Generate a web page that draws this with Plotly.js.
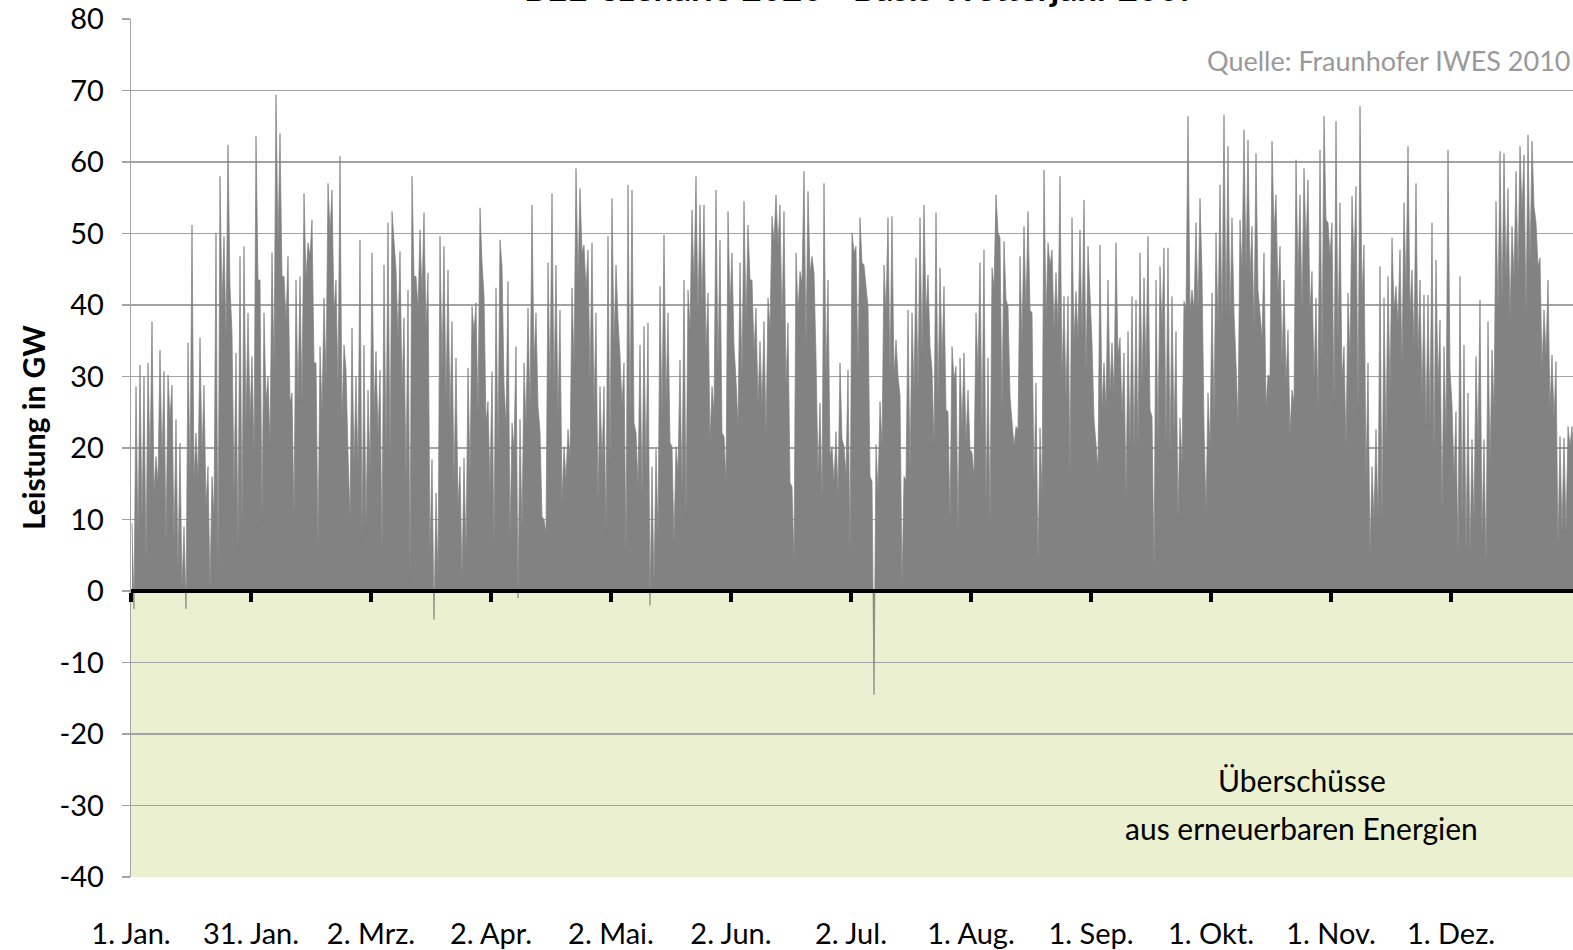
<!DOCTYPE html>
<html><head><meta charset="utf-8">
<script src="https://cdn.plot.ly/plotly-3.0.1.min.js"></script>
<style>html,body{margin:0;padding:0;overflow:hidden;background:#fff}</style>
</head><body><div id="chart" style="width:1620px;height:950px"></div>
<script>
// Daily maximum and minimum residual load (GW), day 0 = 1 Jan
const dailyPeak = [
9.5,28.6,31.6,30.0,31.9,37.7,18.8,33.7,30.7,30.2,28.8,24.0,20.7,9.0,34.7,51.2,22.1,35.4,28.8,17.4,
16.0,50.1,58.0,49.6,62.4,36.1,33.3,46.8,48.2,38.9,32.8,63.6,43.5,38.9,30.0,47.3,69.4,64.0,44.0,46.8,
27.7,43.5,44.0,55.6,48.7,51.9,31.9,34.2,41.0,57.0,56.1,43.5,60.8,34.4,19.3,36.8,30.0,49.1,34.4,28.1,
47.3,33.5,30.9,45.6,51.5,53.1,44.9,47.5,38.2,42.1,58.0,44.0,50.5,52.9,44.5,18.4,13.7,49.6,48.2,44.9,
37.7,32.6,17.4,18.6,31.2,39.8,40.3,53.6,41.4,26.5,30.7,42.4,49.1,28.8,43.3,23.5,34.2,24.0,31.9,39.6,
54.0,38.9,22.3,10.0,45.9,55.6,45.6,39.3,20.2,22.6,42.4,59.1,56.3,48.4,47.7,48.7,38.9,28.6,28.6,49.6,
54.9,45.6,33.0,31.9,56.8,56.1,22.1,34.4,37.0,37.5,17.4,19.8,42.6,49.8,38.9,20.2,20.2,32.3,43.5,42.1,
53.3,58.0,54.0,54.0,41.7,28.6,56.1,49.1,21.6,53.1,47.3,29.5,45.9,54.5,51.2,43.5,39.6,34.9,37.7,41.0,
52.4,55.4,54.0,53.1,37.5,14.6,47.3,44.7,58.7,55.9,46.8,32.8,26.3,57.0,43.5,20.2,22.3,31.9,20.2,30.9,
50.1,48.2,52.2,45.6,39.8,15.3,20.5,26.5,45.6,52.2,52.4,35.1,27.4,16.0,39.3,38.9,46.6,52.2,54.0,44.2,
30.9,52.9,45.2,42.6,25.1,34.2,31.4,32.6,33.3,28.1,19.3,38.9,45.9,47.7,32.6,45.2,55.4,49.4,48.9,39.8,
23.3,23.0,46.8,51.0,53.1,38.9,29.1,22.8,58.9,48.7,47.7,44.5,58.0,41.2,41.2,52.2,41.9,50.5,54.7,48.2,
34.7,20.0,48.4,31.9,43.5,34.7,48.7,35.4,33.3,36.3,41.2,40.7,47.3,43.8,49.6,24.4,43.5,45.4,48.0,48.0,
41.2,36.3,24.2,40.5,66.4,42.1,51.5,54.9,23.0,27.7,41.7,50.1,56.8,66.6,62.2,52.2,31.9,51.9,64.5,63.1,
51.0,61.2,38.9,47.3,30.2,62.9,55.4,48.2,43.5,36.5,28.1,60.3,55.4,59.1,57.5,44.7,41.0,61.7,66.4,51.5,
51.5,65.7,54.3,34.2,41.7,55.2,56.6,67.8,48.4,31.9,17.4,22.6,45.4,41.0,44.0,49.4,42.6,47.7,54.3,62.2,
44.9,57.0,43.5,41.4,41.4,51.5,46.3,37.9,34.2,61.7,26.0,25.1,44.0,34.4,27.7,21.2,32.8,40.7,21.2,37.7,
33.7,54.5,61.5,61.2,56.3,51.0,58.7,62.2,61.0,63.8,62.9,51.5,46.6,39.3,43.5,33.0,32.1,21.6,21.4,23.0,
23.0
];
const dailyTrough = [
-2.5,6.7,9.5,3.9,17.4,13.7,15.1,17.9,6.5,24.0,6.5,2.5,0.2,-2.5,15.5,15.5,15.5,18.8,11.8,0.2,
10.4,2.0,39.8,35.1,42.6,13.7,5.8,8.6,23.0,24.0,18.8,43.5,9.5,26.3,20.2,30.9,48.2,44.0,37.5,26.3,
10.0,26.3,26.3,43.5,46.8,31.9,5.5,24.9,29.5,50.0,38.9,28.1,23.5,30.9,10.0,17.0,16.5,7.2,8.6,16.5,
24.9,21.6,5.3,18.8,17.4,49.1,35.1,27.7,15.1,1.6,44.0,39.3,41.2,36.5,4.8,-4.0,1.6,30.9,26.3,24.0,
14.6,11.8,1.6,4.8,16.0,36.1,24.4,45.9,23.5,14.2,6.2,19.3,45.4,23.0,6.9,19.8,-1.0,8.1,23.0,24.9,
31.9,25.8,10.4,8.1,28.1,27.7,24.4,12.3,15.5,18.4,31.4,43.5,47.3,42.1,29.1,25.3,12.3,17.9,8.1,17.9,
34.2,37.9,25.8,4.4,23.5,23.5,14.6,13.2,16.5,-2.0,0.6,7.6,24.0,25.8,20.7,6.7,16.5,13.2,10.4,36.5,
42.6,38.4,39.8,33.3,20.7,24.9,30.9,22.1,15.1,39.8,34.2,23.0,29.5,37.5,43.5,33.5,26.0,25.8,21.6,36.5,
48.7,48.2,37.0,28.6,15.1,3.7,38.9,43.0,34.2,44.5,44.5,16.0,12.3,29.5,18.8,15.1,13.2,21.2,16.0,4.8,
47.3,30.5,45.9,42.6,16.0,-14.5,13.7,20.2,38.9,30.0,30.0,30.0,0.4,15.5,16.5,27.7,27.7,33.0,38.4,34.2,
20.2,25.8,31.9,25.3,9.5,29.5,7.9,22.6,20.7,19.8,16.0,30.5,21.6,11.8,9.0,42.4,50.1,24.9,40.7,27.2,
20.2,22.6,34.7,38.9,39.3,14.6,3.4,13.2,37.9,45.4,36.5,36.5,29.5,26.7,16.0,34.7,35.1,35.1,30.0,41.7,
24.0,17.0,25.3,25.3,27.7,27.4,32.8,24.4,12.8,20.2,19.3,19.8,28.1,30.5,25.3,2.7,20.2,36.5,19.8,18.8,
21.6,10.2,17.4,39.3,38.9,39.3,38.9,44.5,10.9,19.8,23.5,36.5,37.0,37.9,37.9,38.9,23.0,44.5,44.5,44.0,
36.5,42.0,35.1,25.6,30.0,50.1,41.2,31.4,29.1,21.9,26.3,44.0,38.9,47.7,38.9,29.5,24.9,31.9,51.9,46.8,
25.8,34.2,29.5,20.0,32.3,45.4,24.9,40.7,15.1,4.8,10.0,9.5,9.0,20.7,27.2,39.3,37.2,31.4,41.7,38.9,
34.2,32.8,26.7,22.8,23.0,18.8,28.1,10.9,21.2,30.9,16.0,4.1,9.5,5.3,4.8,9.5,20.2,7.2,3.4,17.4,
24.9,38.9,39.8,43.5,37.9,43.5,44.0,52.9,37.9,45.4,53.8,45.4,30.9,32.8,25.3,24.0,5.8,8.1,8.1,20.2,
17.4
];
const tickHours = [0,720,1440,2160,2880,3600,4320,5040,5760,6480,7200,7920];
const tickLabels = ["1. Jan.","31. Jan.","2. Mrz.","2. Apr.","2. Mai.","2. Jun.","2. Jul.","1. Aug.","1. Sep.","1. Okt.","1. Nov.","1. Dez."];
const yTicks = [-40,-30,-20,-10,0,10,20,30,40,50,60,70,80];
const yTickLabels = ["-40","-30","-20","-10","0","10","20","30","40","50","60","70","80"];
const chartTitle = "BEE-Szenario 2020 - Basis Wetterjahr 2007";
const yTitle = "Leistung in GW";
const sourceNote = "Quelle: Fraunhofer IWES 2010";
const surplusLine1 = "Überschüsse";
const surplusLine2 = "aus erneuerbaren Energien";

// hour-of-year positions: daily maximum in the morning half, minimum in the evening half
const xs = [], ys = [];
dailyPeak.forEach((p, d) => {
  xs.push(d * 24 + 6); ys.push(p);
  xs.push(d * 24 + 18); ys.push(dailyTrough[d]);
});

const FONT = 'Lato, "Open Sans", sans-serif';
const grid = '#a3a3a3';

const traces = [
  {
    x: xs, y: ys, type: 'scatter', mode: 'lines',
    line: {color: '#808080', width: 0.7},
    fill: 'tozeroy', fillcolor: '#828282',
    hoverinfo: 'x+y', showlegend: false
  },
  { // carrier for the zero-line axis
    x: [tickHours[0], 8760], y: [null, null], xaxis: 'x2', yaxis: 'y',
    type: 'scatter', mode: 'lines', hoverinfo: 'skip', showlegend: false
  }
];

const layout = {
  width: 1620, height: 950,
  margin: {l: 131, r: 29, t: 19, b: 73},
  paper_bgcolor: '#ffffff', plot_bgcolor: '#ffffff',
  font: {family: FONT, color: '#000', size: 24},
  showlegend: false,
  xaxis: {
    range: [0, 8760], tickvals: tickHours, ticktext: tickLabels,
    ticks: 'outside', ticklen: 31, tickcolor: 'rgba(0,0,0,0)',
    showline: false, showgrid: false, zeroline: false,
    tickfont: {family: FONT, size: 29, color: '#000'}
  },
  xaxis2: {
    overlaying: 'x', anchor: 'free', position: 1/3, side: 'bottom',
    range: [0, 8760], tickvals: tickHours, showticklabels: false,
    showline: true, linecolor: '#000', linewidth: 4,
    ticks: 'outside', ticklen: 9, tickwidth: 4, tickcolor: '#000',
    showgrid: false, zeroline: false, layer: 'above traces'
  },
  yaxis: {
    range: [-40, 80], tickvals: yTicks, ticktext: yTickLabels,
    showgrid: true, gridcolor: grid, gridwidth: 1.3,
    showline: true, linecolor: grid, linewidth: 1.3,
    ticks: 'outside', ticklen: 8, tickcolor: grid, tickwidth: 1.3,
    ticklabelstandoff: 12,
    zeroline: false,
    tickfont: {family: FONT, size: 29, color: '#000'}
  },
  shapes: [{
    type: 'rect', xref: 'paper', x0: 0, x1: 1, yref: 'y', y0: -40, y1: 0,
    fillcolor: '#ebf1d0', line: {width: 0}, layer: 'below'
  }],
  annotations: [
    {text: '<b>' + chartTitle + '</b>', xref: 'paper', yref: 'paper', x: 0.5, y: 1.037,
     xanchor: 'center', yanchor: 'middle', showarrow: false, font: {family: FONT, size: 35, color: '#000'}},
    {text: '<b>' + yTitle + '</b>', xref: 'paper', yref: 'paper', x: (33 - 131) / 1460, y: (877 - 428) / 858,
     xanchor: 'center', yanchor: 'middle', textangle: -90, showarrow: false,
     font: {family: FONT, size: 30, color: '#000'}},
    {text: sourceNote, xref: 'paper', yref: 'paper', x: 0.7356, y: 0.952,
     xanchor: 'left', yanchor: 'middle', showarrow: false, font: {family: FONT, size: 27, color: '#999999'}},
    {text: surplusLine1, xref: 'paper', yref: 'paper', x: 0.802, y: (877 - 780) / 858,
     xanchor: 'center', yanchor: 'middle', showarrow: false, font: {family: FONT, size: 30, color: '#000'}},
    {text: surplusLine2, xref: 'paper', yref: 'paper', x: 0.802, y: (877 - 828) / 858,
     xanchor: 'center', yanchor: 'middle', showarrow: false, font: {family: FONT, size: 30, color: '#000'}}
  ]
};

Plotly.newPlot('chart', traces, layout, {displayModeBar: false, staticPlot: true});
</script>
</body></html>
